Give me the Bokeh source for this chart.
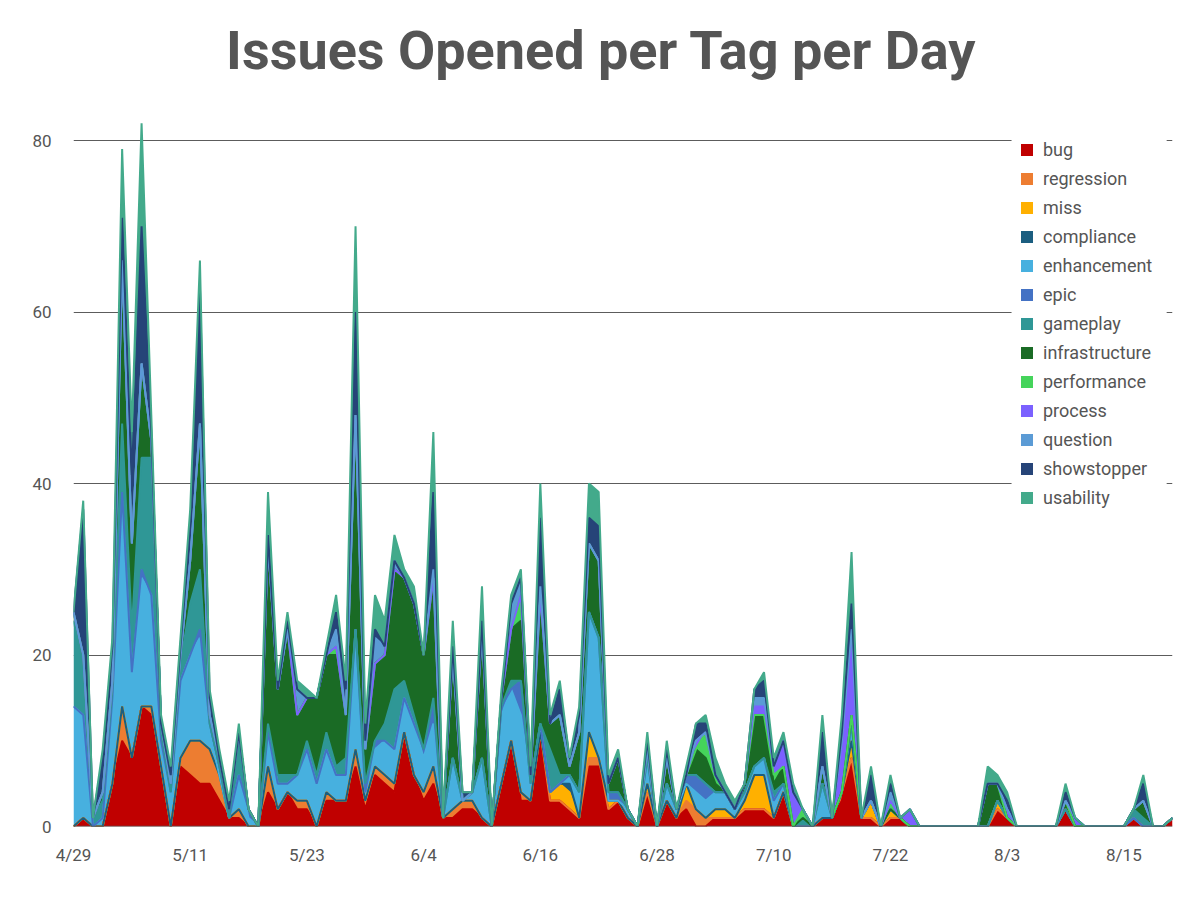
import numpy as np
from bokeh.plotting import figure
from bokeh.models import Range1d, FixedTicker, Legend, LegendItem, Span, BoxAnnotation, Label
from bokeh.embed import file_html
from bokeh.resources import INLINE

# ---- data (issues opened per day, day 0 = 4/29) ----
tick_days = [0, 12, 24, 36, 48, 60, 72, 84, 96, 108]
tick_labels = ["4/29", "5/11", "5/23", "6/4", "6/16", "6/28", "7/10", "7/22", "8/3", "8/15"]
y_ticks = [0, 20, 40, 60, 80]

tags = ["bug", "regression", "miss", "compliance", "enhancement", "epic", "gameplay",
        "infrastructure", "performance", "process", "question", "showstopper", "usability"]
colors = ["#C00000", "#ED7D31", "#FFB000", "#1B5E80", "#47B0DF", "#4472C4", "#2F9796",
          "#1A6B25", "#45D45B", "#7B61FF", "#5B9BD5", "#264478", "#43AA8B"]

bug = [0, 1, 0, 0, 5, 10, 8, 14, 13, 6,
       0, 7, 6, 5, 5, 3, 1, 1, 0, 0,
       4, 2, 4, 2, 2, 0, 3, 3, 3, 7,
       2, 6, 5, 4, 11, 6, 3, 5, 1, 1,
       2, 2, 1, 0, 5, 10, 3, 3, 10, 3,
       3, 2, 1, 7, 7, 2, 3, 1, 0, 4,
       0, 3, 1, 2, 0, 0, 1, 1, 1, 2,
       2, 2, 1, 4, 0, 0, 0, 1, 1, 3,
       8, 1, 1, 0, 1, 1, 0, 0, 0, 0,
       0, 0, 0, 0, 0, 2, 1, 0, 0, 0,
       0, 0, 2, 0, 0, 0, 0, 0, 0, 1,
       0, 0, 0, 1]
regression = [0, 0, 0, 0, 0, 4, 0, 0, 1, 1,
              0, 1, 4, 5, 4, 3, 0, 1, 0, 0,
              3, 0, 0, 1, 1, 0, 1, 0, 0, 2,
              1, 1, 1, 1, 0, 0, 1, 2, 0, 1,
              1, 1, 0, 0, 0, 0, 1, 0, 1, 0,
              0, 0, 0, 1, 1, 0, 0, 0, 0, 0,
              0, 0, 0, 1, 2, 1, 0, 0, 0, 0,
              0, 0, 0, 0, 0, 0, 0, 0, 0, 1,
              0, 0, 0, 0, 0, 0, 0, 0, 0, 0,
              0, 0, 0, 0, 0, 0, 0, 0, 0, 0,
              0, 0, 0, 0, 0, 0, 0, 0, 0, 0,
              0, 0, 0, 0]
miss = [0, 0, 0, 0, 0, 0, 0, 0, 0, 0,
        0, 0, 0, 0, 0, 0, 0, 0, 0, 0,
        0, 0, 0, 0, 0, 0, 0, 0, 0, 0,
        0, 0, 0, 0, 0, 0, 0, 0, 0, 0,
        0, 0, 0, 0, 0, 0, 0, 0, 0, 1,
        2, 2, 0, 3, 0, 1, 0, 0, 0, 1,
        0, 0, 0, 2, 0, 0, 1, 1, 0, 1,
        4, 4, 0, 0, 0, 0, 0, 0, 0, 0,
        2, 0, 2, 0, 1, 0, 0, 0, 0, 0,
        0, 0, 0, 0, 0, 1, 0, 0, 0, 0,
        0, 0, 0, 0, 0, 0, 0, 0, 0, 0,
        0, 0, 0, 0]
compliance = [0, 0, 0, 0, 0, 0, 0, 0, 0, 0,
              0, 0, 0, 0, 0, 0, 0, 0, 0, 0,
              0, 0, 0, 0, 0, 0, 0, 0, 0, 0,
              0, 0, 0, 0, 0, 0, 0, 0, 0, 0,
              0, 0, 0, 0, 0, 0, 0, 0, 0, 0,
              0, 1, 0, 0, 0, 0, 0, 0, 0, 0,
              0, 0, 0, 0, 0, 0, 0, 0, 0, 0,
              0, 0, 0, 0, 0, 0, 0, 0, 0, 0,
              0, 0, 0, 0, 0, 0, 0, 0, 0, 0,
              0, 0, 0, 0, 0, 0, 0, 0, 0, 0,
              0, 0, 0, 0, 0, 0, 0, 0, 0, 0,
              0, 0, 0, 0]
enhancement = [14, 12, 0, 1, 10, 24, 10, 15, 13, 3,
               4, 9, 10, 12, 2, 0, 0, 4, 1, 0,
               4, 3, 1, 3, 6, 5, 5, 3, 3, 14,
               1, 2, 4, 4, 4, 6, 4, 5, 0, 6,
               0, 1, 7, 0, 8, 6, 9, 2, 1, 0,
               0, 1, 3, 14, 14, 0, 0, 1, 0, 3,
               0, 2, 1, 0, 2, 2, 2, 2, 1, 1,
               1, 2, 2, 1, 0, 0, 0, 4, 0, 0,
               2, 0, 0, 0, 0, 0, 0, 0, 0, 0,
               0, 0, 0, 0, 0, 0, 0, 0, 0, 0,
               0, 0, 0, 0, 0, 0, 0, 0, 0, 0,
               0, 0, 0, 0]
epic = [0, 0, 0, 0, 0, 1, 0, 1, 0, 0,
        0, 0, 0, 1, 1, 1, 0, 0, 1, 0,
        0, 0, 0, 0, 0, 0, 0, 0, 0, 0,
        0, 1, 0, 0, 0, 0, 1, 2, 0, 0,
        0, 0, 0, 0, 1, 0, 4, 0, 0, 0,
        0, 0, 0, 0, 0, 1, 1, 0, 0, 0,
        0, 0, 0, 1, 2, 2, 0, 0, 0, 0,
        0, 0, 0, 0, 0, 0, 0, 0, 0, 0,
        0, 0, 0, 0, 0, 0, 0, 0, 0, 0,
        0, 0, 0, 0, 0, 0, 0, 0, 0, 0,
        0, 0, 0, 0, 0, 0, 0, 0, 0, 0,
        0, 0, 0, 0]
gameplay = [10, 6, 1, 2, 1, 8, 5, 13, 16, 1,
            0, 2, 6, 7, 0, 0, 0, 4, 0, 0,
            1, 1, 1, 0, 1, 1, 2, 1, 2, 0,
            1, 0, 2, 7, 2, 1, 0, 1, 0, 0,
            0, 0, 0, 0, 0, 1, 0, 0, 0, 5,
            1, 0, 0, 0, 0, 0, 0, 0, 0, 0,
            0, 0, 0, 0, 0, 0, 0, 0, 0, 0,
            0, 0, 1, 0, 0, 1, 0, 0, 0, 0,
            0, 0, 0, 0, 0, 0, 0, 0, 0, 0,
            0, 0, 0, 0, 0, 0, 0, 0, 0, 0,
            0, 0, 0, 0, 0, 0, 0, 0, 0, 1,
            1, 0, 0, 0]
infrastructure = [1, 1, 0, 1, 1, 19, 10, 11, 2, 1,
                  1, 1, 5, 17, 1, 1, 1, 1, 0, 0,
                  21, 10, 17, 7, 5, 9, 9, 13, 5, 25,
                  4, 9, 8, 14, 12, 13, 11, 14, 0, 12,
                  0, 0, 15, 0, 1, 6, 7, 1, 15, 3,
                  7, 1, 7, 8, 9, 1, 4, 0, 0, 1,
                  0, 3, 0, 0, 3, 3, 1, 0, 0, 1,
                  6, 5, 1, 2, 0, 0, 0, 2, 0, 0,
                  1, 0, 0, 0, 0, 0, 0, 0, 0, 0,
                  0, 0, 0, 0, 5, 2, 0, 0, 0, 0,
                  0, 0, 1, 0, 0, 0, 0, 0, 0, 0,
                  2, 0, 0, 0]
performance = [0, 0, 0, 0, 0, 0, 0, 0, 0, 0,
               0, 0, 0, 0, 0, 0, 0, 0, 0, 0,
               0, 0, 0, 0, 0, 0, 0, 1, 0, 0,
               0, 0, 0, 0, 0, 0, 0, 0, 0, 0,
               0, 0, 0, 0, 0, 0, 3, 0, 0, 0,
               0, 0, 0, 0, 0, 0, 0, 0, 0, 0,
               0, 0, 0, 0, 0, 3, 1, 0, 0, 0,
               0, 0, 1, 0, 0, 1, 0, 0, 0, 0,
               0, 0, 0, 0, 1, 0, 0, 0, 0, 0,
               0, 0, 0, 0, 0, 0, 0, 0, 0, 0,
               0, 0, 0, 0, 0, 0, 0, 0, 0, 0,
               0, 0, 0, 0]
process = [0, 0, 0, 0, 0, 0, 0, 0, 0, 0,
           0, 0, 0, 0, 0, 0, 0, 0, 0, 0,
           0, 0, 0, 0, 0, 0, 0, 0, 0, 0,
           0, 0, 0, 0, 0, 0, 0, 0, 0, 0,
           0, 0, 0, 0, 0, 0, 0, 0, 0, 0,
           0, 0, 0, 0, 0, 0, 0, 0, 0, 0,
           0, 0, 0, 0, 1, 0, 0, 0, 0, 0,
           1, 1, 1, 3, 4, 0, 0, 0, 0, 6,
           10, 0, 0, 0, 0, 0, 2, 0, 0, 0,
           0, 0, 0, 0, 0, 0, 1, 0, 0, 0,
           0, 0, 0, 1, 0, 0, 0, 0, 0, 0,
           0, 0, 0, 0]
question = [0, 0, 0, 0, 0, 0, 0, 0, 0, 0,
            0, 0, 0, 0, 0, 0, 0, 0, 0, 0,
            0, 0, 0, 3, 0, 0, 0, 2, 0, 0,
            0, 3, 1, 1, 0, 0, 0, 1, 0, 0,
            0, 0, 0, 0, 0, 3, 2, 0, 1, 0,
            0, 0, 0, 0, 0, 0, 0, 0, 0, 0,
            0, 0, 0, 0, 0, 0, 0, 0, 0, 0,
            1, 1, 0, 0, 0, 0, 0, 0, 0, 0,
            0, 0, 0, 0, 1, 0, 0, 0, 0, 0,
            0, 0, 0, 0, 0, 0, 0, 0, 0, 0,
            0, 0, 0, 0, 0, 0, 0, 0, 0, 0,
            0, 0, 0, 0]
showstopper = [0, 17, 0, 4, 4, 5, 8, 16, 1, 0,
               1, 1, 4, 16, 2, 0, 0, 0, 0, 0,
               1, 0, 1, 0, 0, 0, 0, 2, 3, 12,
               1, 1, 0, 0, 0, 0, 0, 9, 0, 1,
               1, 0, 1, 0, 0, 0, 0, 0, 8, 0,
               3, 1, 2, 3, 4, 0, 0, 0, 0, 1,
               0, 1, 0, 0, 2, 1, 0, 0, 0, 0,
               1, 2, 0, 0, 0, 0, 0, 4, 0, 1,
               3, 0, 3, 0, 1, 0, 0, 0, 0, 0,
               0, 0, 0, 0, 0, 0, 1, 0, 0, 0,
               0, 0, 1, 0, 0, 0, 0, 0, 0, 0,
               2, 0, 0, 0]
usability = [0, 1, 0, 1, 1, 8, 5, 12, 2, 1,
             1, 1, 2, 3, 1, 1, 1, 1, 0, 0,
             5, 1, 1, 1, 1, 0, 1, 2, 1, 10,
             2, 4, 3, 3, 1, 2, 0, 7, 0, 3,
             0, 0, 4, 0, 1, 1, 1, 1, 4, 1,
             1, 0, 1, 4, 4, 1, 1, 0, 0, 1,
             0, 1, 0, 1, 0, 1, 2, 1, 1, 0,
             0, 1, 1, 1, 1, 0, 0, 2, 0, 2,
             6, 0, 1, 0, 1, 0, 0, 0, 0, 0,
             0, 0, 0, 0, 2, 1, 1, 0, 0, 0,
             0, 0, 1, 0, 0, 0, 0, 0, 0, 0,
             1, 0, 0, 0]

series = [bug, regression, miss, compliance, enhancement, epic, gameplay,
          infrastructure, performance, process, question, showstopper, usability]

days = np.arange(len(bug))

TEXT = "#555555"
FONT = "Roboto"

# frame runs to the top of the figure; the y range is extended so that 80 sits
# where the original's top grid line is and the title lives inside the frame
p = figure(width=1184, height=884, output_backend="svg", toolbar_location=None,
           x_range=Range1d(0, 113), y_range=Range1d(0, 96.33),
           min_border_left=73, min_border_right=12, min_border_top=0,
           min_border_bottom=58, background_fill_color="white",
           border_fill_color="white", outline_line_color=None)

p.add_layout(Label(x=528, y=776, x_units="screen", y_units="screen",
                   text="Issues Opened per Tag per Day", text_font=FONT,
                   text_font_style="bold", text_font_size="54px", text_color=TEXT,
                   text_align="center", text_baseline="alphabetic"))

# axes
p.xaxis.ticker = FixedTicker(ticks=tick_days)
p.xaxis.major_label_overrides = {d: l for d, l in zip(tick_days, tick_labels)}
p.yaxis.ticker = FixedTicker(ticks=y_ticks)
for ax in (p.xaxis, p.yaxis):
    ax.axis_line_color = None
    ax.major_tick_line_color = None
    ax.minor_tick_line_color = None
    ax.major_tick_out = 0
    ax.major_tick_in = 0
    ax.major_label_text_font = FONT
    ax.major_label_text_font_size = "17px"
    ax.major_label_text_color = TEXT
p.xaxis.major_label_standoff = 18
p.yaxis.major_label_standoff = 22

p.xgrid.grid_line_color = None
p.ygrid.grid_line_color = "#5c5c5c"
p.ygrid.grid_line_width = 1

# stacked areas
cum = np.zeros(len(days))
tops = []
area_renderers = []
for vals, c in zip(series, colors):
    v = np.array(vals, dtype=float)
    bottom = cum.copy()
    cum = cum + v
    r = p.varea(x=days, y1=bottom, y2=cum.copy(), fill_color=c, fill_alpha=1.0)
    area_renderers.append(r)
    tops.append(cum.copy())

for top, c in zip(tops, colors):
    p.line(x=days, y=top, line_color=c, line_width=2)

p.add_layout(Span(location=0, dimension="width", line_color="#555555", line_width=1.5))

# white panel behind the legend (covers the grid lines like the original)
p.add_layout(BoxAnnotation(left=96.45, right=112.4, bottom=37.0, top=83.5,
                           fill_color="white", fill_alpha=1.0, line_color=None))

legend = Legend(items=[LegendItem(label=t, renderers=[r]) for t, r in zip(tags, area_renderers)],
                location=(946, 318))
legend.label_text_font = FONT
legend.label_text_font_size = "18px"
legend.label_text_color = TEXT
legend.glyph_width = 15
legend.glyph_height = 15
legend.label_height = 20
legend.label_width = 112
legend.spacing = 8
legend.padding = 10
legend.margin = 0
legend.label_standoff = 9
legend.border_line_color = None
legend.background_fill_color = "white"
legend.background_fill_alpha = 1.0
p.add_layout(legend)

open("out.html", "w").write(file_html(p, INLINE))
